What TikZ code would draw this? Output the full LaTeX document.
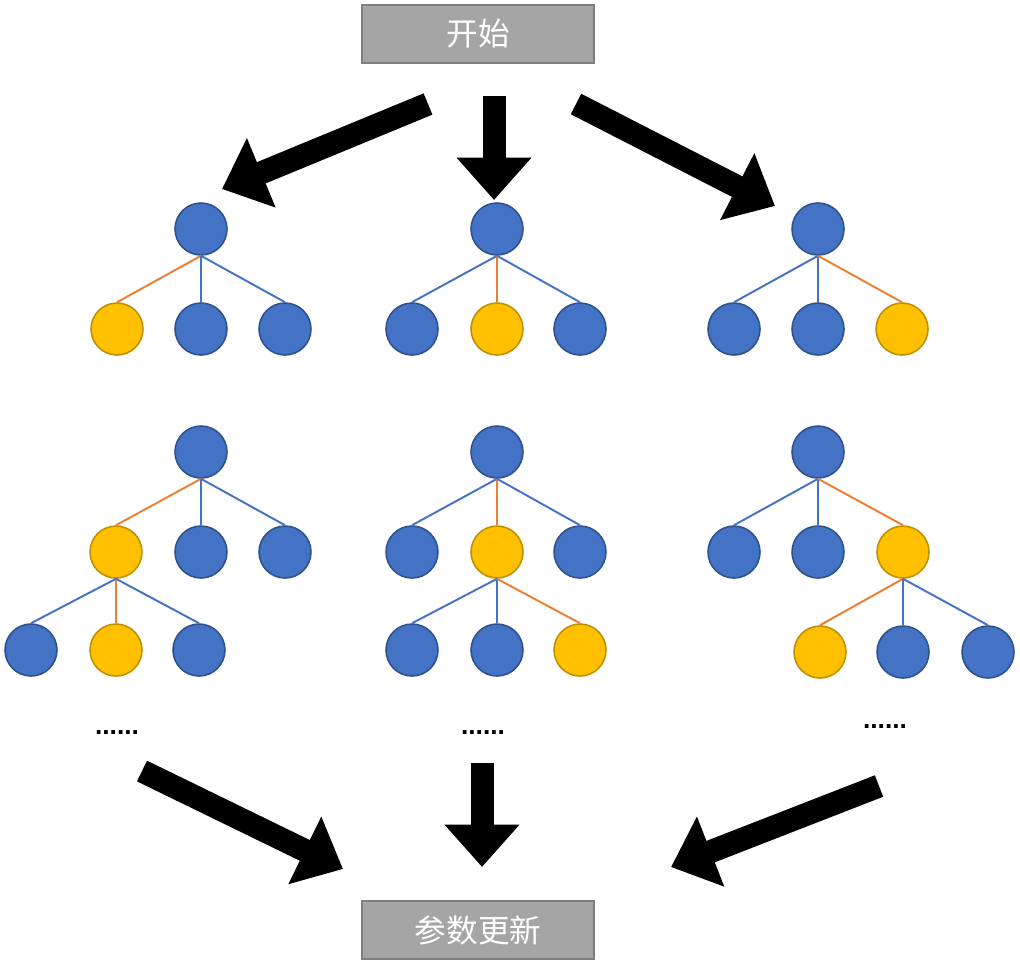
\documentclass[tikz,border=0pt]{standalone}
\usepackage{fontspec}
\setmainfont{Liberation Sans}
\newfontfamily\cjk{Noto Sans CJK SC}
\usepackage{xcolor}
\usetikzlibrary{arrows.meta, positioning}

\definecolor{nodeblue}{HTML}{4472C4}
\definecolor{nodeblueline}{HTML}{2F528F}
\definecolor{nodeyellow}{HTML}{FFC000}
\definecolor{nodeyellowline}{HTML}{BF9000}
\definecolor{edgeorange}{HTML}{ED7D31}
\definecolor{boxgray}{HTML}{A5A5A5}
\definecolor{boxline}{HTML}{7F7F7F}

\begin{document}
\begin{tikzpicture}[
  x=0.02cm, y=-0.02cm,
  box/.style={draw=boxline, fill=boxgray, line width=1pt, rectangle, minimum width=4.64cm, minimum height=1.16cm, text=white, font=\cjk\fontsize{18}{22}\selectfont},
  bnode/.style={circle, draw=nodeblueline, fill=nodeblue, line width=0.9pt, minimum size=1.04cm, inner sep=0pt},
  ynode/.style={circle, draw=nodeyellowline, fill=nodeyellow, line width=0.9pt, minimum size=1.04cm, inner sep=0pt},
  bedge/.style={draw=nodeblue, line width=1.1pt},
  oedge/.style={draw=edgeorange, line width=1.1pt},
  bigarrow/.style={line width=0.46cm, -{Triangle[length=0.85cm, width=1.45cm]}},
  dots/.style={font=\bfseries\fontsize{15}{18}\selectfont, inner sep=0pt}
]
\useasboundingbox (0,0) rectangle (1020,968);

% Boxes
\node[box] (start) at (478,34) {开始};
\node[box] (update) at (478,930) {参数更新};

% Tree A
\node[bnode] (a0) at (201,229) {};
\node[ynode] (a1) at (117,329) {};
\node[bnode] (a2) at (201,329) {};
\node[bnode] (a3) at (285,329) {};
\draw[oedge] (a0.south) -- (a1.north);
\draw[bedge] (a0.south) -- (a2.north);
\draw[bedge] (a0.south) -- (a3.north);

% Tree B
\node[bnode] (b0) at (497,229) {};
\node[bnode] (b1) at (412,329) {};
\node[ynode] (b2) at (497,329) {};
\node[bnode] (b3) at (580,329) {};
\draw[bedge] (b0.south) -- (b1.north);
\draw[oedge] (b0.south) -- (b2.north);
\draw[bedge] (b0.south) -- (b3.north);

% Tree C
\node[bnode] (c0) at (818,229) {};
\node[bnode] (c1) at (734,329) {};
\node[bnode] (c2) at (818,329) {};
\node[ynode] (c3) at (902,329) {};
\draw[bedge] (c0.south) -- (c1.north);
\draw[bedge] (c0.south) -- (c2.north);
\draw[oedge] (c0.south) -- (c3.north);

% Tree D
\node[bnode] (d0) at (201,452) {};
\node[ynode] (d1) at (116,552) {};
\node[bnode] (d2) at (201,552) {};
\node[bnode] (d3) at (285,552) {};
\node[bnode] (d4) at (31,650) {};
\node[ynode] (d5) at (116,650) {};
\node[bnode] (d6) at (199,650) {};
\draw[oedge] (d0.south) -- (d1.north);
\draw[bedge] (d0.south) -- (d2.north);
\draw[bedge] (d0.south) -- (d3.north);
\draw[bedge] (d1.south) -- (d4.north);
\draw[oedge] (d1.south) -- (d5.north);
\draw[bedge] (d1.south) -- (d6.north);

% Tree E
\node[bnode] (e0) at (497,452) {};
\node[bnode] (e1) at (412,552) {};
\node[ynode] (e2) at (497,552) {};
\node[bnode] (e3) at (580,552) {};
\node[bnode] (e4) at (412,650) {};
\node[bnode] (e5) at (497,650) {};
\node[ynode] (e6) at (580,650) {};
\draw[bedge] (e0.south) -- (e1.north);
\draw[oedge] (e0.south) -- (e2.north);
\draw[bedge] (e0.south) -- (e3.north);
\draw[bedge] (e2.south) -- (e4.north);
\draw[bedge] (e2.south) -- (e5.north);
\draw[oedge] (e2.south) -- (e6.north);

% Tree F
\node[bnode] (f0) at (818,452) {};
\node[bnode] (f1) at (734,552) {};
\node[bnode] (f2) at (818,552) {};
\node[ynode] (f3) at (903,552) {};
\node[ynode] (f4) at (820,652) {};
\node[bnode] (f5) at (903,652) {};
\node[bnode] (f6) at (988,652) {};
\draw[bedge] (f0.south) -- (f1.north);
\draw[bedge] (f0.south) -- (f2.north);
\draw[oedge] (f0.south) -- (f3.north);
\draw[oedge] (f3.south) -- (f4.north);
\draw[bedge] (f3.south) -- (f5.north);
\draw[bedge] (f3.south) -- (f6.north);

% Dots
\node[dots] (dotsd) at (117,733) {......};
\node[dots] (dotse) at (483,733) {......};
\node[dots] (dotsf) at (885,727) {......};

% Arrows
\coordinate (s1) at (428,104);
\coordinate (t1) at (222,189);
\coordinate (s2) at (494,96);
\coordinate (t2) at (494,200);
\coordinate (s3) at (576,104);
\coordinate (t3) at (775,206);
\coordinate (s4) at (142,771);
\coordinate (t4) at (343,869);
\coordinate (s5) at (482,763);
\coordinate (t5) at (482,867);
\coordinate (s6) at (879,786);
\coordinate (t6) at (671,867);
\draw[bigarrow] (s1) -- (t1);
\draw[bigarrow] (s2) -- (t2);
\draw[bigarrow] (s3) -- (t3);
\draw[bigarrow] (s4) -- (t4);
\draw[bigarrow] (s5) -- (t5);
\draw[bigarrow] (s6) -- (t6);
\end{tikzpicture}
\end{document}
